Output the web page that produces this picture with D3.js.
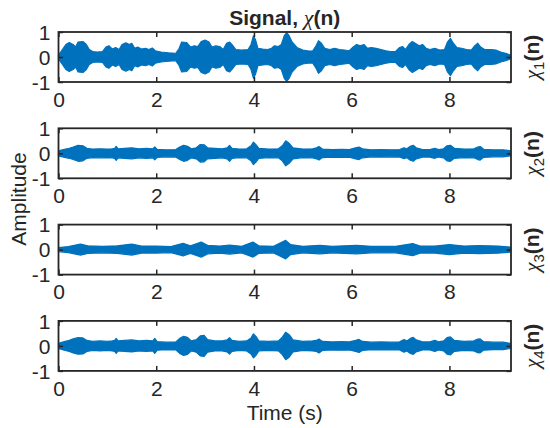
<!DOCTYPE html>
<html><head><meta charset="utf-8">
<script src="https://cdn.jsdelivr.net/npm/d3@7"></script>
<style>body{margin:0;background:#fff}svg{display:block}</style>
</head><body>
<svg id="c" width="550" height="428"></svg>
<script>
// Envelope keyframes [time (s), amplitude]
const env1 = [[0,0.08],[0.08,0.3],[0.15,0.5],[0.22,0.58],[0.3,0.5],[0.35,0.4],[0.4,0.6],[0.5,0.62],[0.57,0.5],[0.63,0.3],[0.7,0.22],[0.8,0.2],[0.9,0.22],[0.97,0.4],[1.03,0.45],[1.1,0.32],[1.17,0.38],[1.24,0.3],[1.3,0.5],[1.38,0.57],[1.45,0.5],[1.5,0.55],[1.56,0.35],[1.62,0.4],[1.7,0.32],[1.78,0.35],[1.85,0.3],[1.92,0.36],[1.98,0.25],[2.1,0.2],[2.25,0.17],[2.4,0.15],[2.47,0.35],[2.52,0.6],[2.62,0.58],[2.7,0.4],[2.78,0.45],[2.85,0.42],[2.92,0.62],[3.0,0.68],[3.08,0.6],[3.14,0.4],[3.22,0.45],[3.3,0.42],[3.37,0.3],[3.44,0.55],[3.5,0.6],[3.57,0.45],[3.63,0.3],[3.75,0.28],[3.88,0.3],[3.94,0.5],[3.99,0.85],[4.03,0.7],[4.08,0.35],[4.18,0.32],[4.28,0.3],[4.36,0.35],[4.42,0.45],[4.5,0.42],[4.56,0.5],[4.62,0.85],[4.67,0.97],[4.72,0.85],[4.78,0.6],[4.88,0.38],[5.0,0.28],[5.1,0.25],[5.2,0.24],[5.27,0.45],[5.32,0.65],[5.38,0.55],[5.45,0.35],[5.55,0.3],[5.65,0.35],[5.75,0.3],[5.85,0.28],[5.95,0.25],[6.03,0.4],[6.1,0.5],[6.18,0.45],[6.25,0.5],[6.32,0.35],[6.4,0.38],[6.5,0.35],[6.6,0.3],[6.7,0.25],[6.8,0.22],[6.9,0.22],[6.98,0.38],[7.04,0.42],[7.1,0.3],[7.17,0.5],[7.24,0.62],[7.3,0.55],[7.38,0.45],[7.45,0.5],[7.52,0.35],[7.6,0.3],[7.7,0.35],[7.8,0.28],[7.9,0.3],[7.96,0.6],[8.02,0.75],[8.08,0.55],[8.15,0.38],[8.25,0.35],[8.35,0.3],[8.45,0.28],[8.52,0.45],[8.58,0.55],[8.64,0.4],[8.72,0.3],[8.85,0.3],[8.95,0.28],[9.05,0.2],[9.15,0.15],[9.25,0.08]];
const env2 = [[0,0.1],[0.1,0.15],[0.22,0.2],[0.3,0.25],[0.4,0.32],[0.5,0.3],[0.58,0.2],[0.7,0.17],[0.85,0.18],[1.0,0.17],[1.1,0.18],[1.15,0.2],[1.18,0.28],[1.22,0.18],[1.35,0.2],[1.5,0.22],[1.65,0.18],[1.8,0.2],[1.93,0.18],[1.97,0.26],[2.02,0.16],[2.2,0.14],[2.4,0.15],[2.48,0.25],[2.56,0.32],[2.64,0.28],[2.72,0.18],[2.82,0.22],[2.9,0.35],[2.98,0.34],[3.05,0.22],[3.2,0.2],[3.35,0.18],[3.45,0.22],[3.5,0.32],[3.55,0.2],[3.7,0.17],[3.85,0.18],[3.94,0.3],[3.99,0.45],[4.04,0.35],[4.1,0.2],[4.3,0.17],[4.5,0.18],[4.58,0.3],[4.65,0.5],[4.72,0.4],[4.8,0.22],[5.0,0.17],[5.2,0.18],[5.28,0.22],[5.33,0.27],[5.4,0.17],[5.6,0.15],[5.8,0.16],[5.95,0.15],[6.08,0.22],[6.15,0.25],[6.22,0.18],[6.4,0.14],[6.6,0.15],[6.8,0.14],[6.98,0.15],[7.07,0.22],[7.13,0.18],[7.2,0.28],[7.26,0.32],[7.32,0.22],[7.45,0.15],[7.6,0.15],[7.7,0.2],[7.78,0.15],[7.88,0.18],[7.95,0.3],[8.02,0.32],[8.1,0.2],[8.3,0.17],[8.5,0.18],[8.58,0.25],[8.63,0.27],[8.7,0.16],[8.9,0.14],[9.1,0.14],[9.25,0.1]];
const env3 = [[0,0.08],[0.2,0.12],[0.45,0.22],[0.6,0.15],[0.9,0.13],[1.2,0.15],[1.5,0.22],[1.7,0.14],[2.0,0.14],[2.3,0.12],[2.55,0.25],[2.7,0.15],[2.92,0.3],[3.05,0.17],[3.3,0.14],[3.5,0.18],[3.75,0.13],[3.98,0.3],[4.1,0.15],[4.4,0.13],[4.65,0.37],[4.75,0.2],[5.0,0.13],[5.35,0.17],[5.6,0.13],[6.1,0.17],[6.4,0.13],[6.9,0.13],[7.25,0.24],[7.4,0.14],[7.7,0.14],[8.0,0.2],[8.3,0.14],[8.6,0.16],[9.0,0.14],[9.25,0.1]];
const env4 = [[0,0.1],[0.1,0.16],[0.22,0.22],[0.3,0.28],[0.4,0.33],[0.5,0.32],[0.58,0.22],[0.7,0.18],[0.85,0.2],[1.0,0.18],[1.1,0.2],[1.15,0.22],[1.18,0.3],[1.22,0.2],[1.35,0.22],[1.5,0.24],[1.65,0.2],[1.8,0.22],[1.93,0.2],[1.97,0.3],[2.02,0.17],[2.2,0.15],[2.4,0.16],[2.48,0.3],[2.56,0.38],[2.64,0.34],[2.72,0.2],[2.82,0.25],[2.9,0.4],[2.98,0.42],[3.05,0.25],[3.2,0.2],[3.35,0.2],[3.45,0.24],[3.5,0.33],[3.55,0.22],[3.7,0.18],[3.85,0.2],[3.94,0.32],[3.99,0.48],[4.04,0.38],[4.1,0.2],[4.3,0.18],[4.5,0.2],[4.58,0.35],[4.65,0.55],[4.72,0.45],[4.8,0.24],[5.0,0.18],[5.2,0.2],[5.28,0.22],[5.33,0.28],[5.4,0.18],[5.6,0.16],[5.8,0.17],[5.95,0.16],[6.08,0.22],[6.15,0.26],[6.22,0.18],[6.4,0.15],[6.6,0.16],[6.8,0.15],[6.98,0.16],[7.07,0.25],[7.13,0.2],[7.2,0.3],[7.26,0.34],[7.32,0.24],[7.45,0.16],[7.6,0.16],[7.7,0.22],[7.78,0.16],[7.88,0.2],[7.95,0.33],[8.02,0.36],[8.1,0.22],[8.3,0.18],[8.5,0.2],[8.58,0.27],[8.63,0.28],[8.7,0.17],[8.9,0.15],[9.1,0.15],[9.25,0.1]];
const channels = ["1","2","3","4"];
const xTicks = [0,2,4,6,8];
const yTicks = [-1,0,1];
const titleMain = "Signal, ";
const xLabel = "Time (s)";
const yLabel = "Amplitude";

const envs = [env1, env2, env3, env4];
const svg = d3.select("#c");
const L = 58.5, R = 511, T0 = 32, H = 50, STEP = 96.3;
const x = d3.scaleLinear().domain([0, 9.26]).range([L, R]);
const col = "#0072BD", ink = "#262626";
const FONT = "'Liberation Sans', Arial, Helvetica, sans-serif";
const FS = 21;

envs.forEach((env, i) => {
  const top = T0 + i * STEP;
  const y = d3.scaleLinear().domain([-1, 1]).range([top + H, top]);
  const g = svg.append("g");
  const area = d3.area().x(d => x(d[0])).y0(d => y(-d[1])).y1(d => y(d[1]));
  g.append("path").datum(env).attr("d", area)
    .attr("fill", col).attr("stroke", col).attr("stroke-width", 1.2).attr("stroke-linejoin", "round");

  const xb = g.append("g").attr("transform", `translate(0,${top + H})`)
    .call(d3.axisBottom(x).tickValues(xTicks).tickSize(-5).tickPadding(9).tickFormat(d3.format("d")));
  const xt = g.append("g").attr("transform", `translate(0,${top})`)
    .call(d3.axisTop(x).tickValues(xTicks).tickSize(-5).tickFormat(""));
  const yl = g.append("g").attr("transform", `translate(${L},0)`)
    .call(d3.axisLeft(y).tickValues(yTicks).tickSize(-4.5).tickPadding(8).tickFormat(d3.format("d")));
  const yr = g.append("g").attr("transform", `translate(${R},0)`)
    .call(d3.axisRight(y).tickValues(yTicks).tickSize(-4.5).tickFormat(""));
  [xb, xt, yl, yr].forEach(a => {
    a.select(".domain").remove();
    a.selectAll(".tick line").attr("stroke", ink).attr("stroke-width", 1.5);
    a.selectAll("text").attr("fill", ink).style("font-family", FONT).style("font-size", FS + "px");
  });
  xb.selectAll("text").attr("dy", "0.75em").attr("y", 9);
  yl.selectAll("text").attr("dy", "0.35em").text(d => d3.format("d")(d).replace("−", "-"));

  g.append("rect").attr("x", L).attr("y", top).attr("width", R - L).attr("height", H)
    .attr("fill", "none").attr("stroke", ink).attr("stroke-width", 1.8);

  const t = svg.append("text")
    .attr("transform", `translate(532,${top + H / 2}) rotate(-90)`)
    .attr("text-anchor", "middle").attr("dy", "0.35em")
    .attr("fill", ink).style("font-family", FONT).style("font-size", FS + "px");
  t.append("tspan").text("χ").style("font-family", "'Liberation Serif', serif").style("font-style", "italic").style("font-size", "21px");
  t.append("tspan").text(channels[i]).attr("baseline-shift", "-30%").style("font-size", "15px");
  t.append("tspan").text("(n)").style("font-weight", "bold");
});

const tt = svg.append("text").attr("x", (L + R) / 2).attr("y", 25).attr("text-anchor", "middle")
  .attr("fill", ink).style("font-family", FONT).style("font-size", FS + "px").style("font-weight", "bold");
tt.append("tspan").text(titleMain);
tt.append("tspan").text("χ").style("font-family", "'Liberation Serif', serif").style("font-style", "italic").style("font-weight", "normal").style("font-size", "22px");
tt.append("tspan").text("(n)");

svg.append("text").attr("x", (L + R) / 2).attr("y", 420).attr("text-anchor", "middle")
  .attr("fill", ink).style("font-family", FONT).style("font-size", FS + "px").text(xLabel);
svg.append("text").attr("transform", "translate(19,199) rotate(-90)").attr("text-anchor", "middle").attr("dy", "0.35em")
  .attr("fill", ink).style("font-family", FONT).style("font-size", FS + "px").text(yLabel);
</script>
</body></html>
